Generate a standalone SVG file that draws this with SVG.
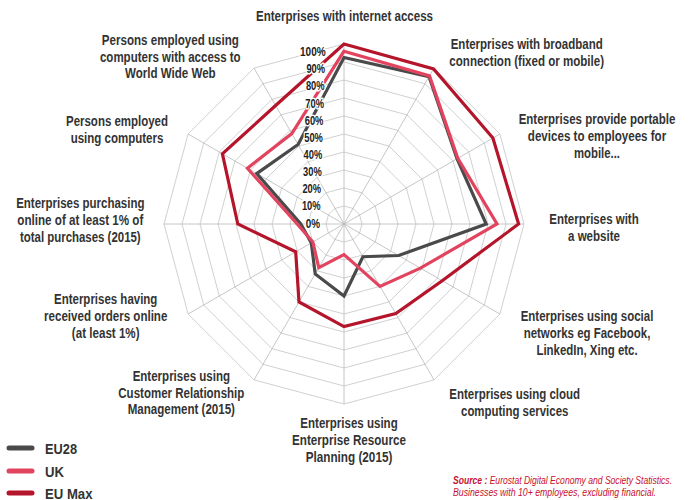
<svg xmlns="http://www.w3.org/2000/svg" xmlns:xlink="http://www.w3.org/1999/xlink" width="688" height="500" viewBox="0 0 688 500">
<style>
.lbl{font-family:"Liberation Sans",Arial,sans-serif;font-weight:bold;font-size:14px;fill:#333;text-anchor:middle}
.pct{font-family:"Liberation Sans",Arial,sans-serif;font-weight:bold;font-size:12.5px;fill:#222;text-anchor:end;stroke:#fff;stroke-width:3px;stroke-linejoin:round;paint-order:stroke}
.leg{font-family:"Liberation Sans",Arial,sans-serif;font-weight:bold;font-size:15px;fill:#333}
.src{font-family:"Liberation Sans",Arial,sans-serif;font-style:italic;font-size:10px;fill:#c8102e}
.ser{fill:none;stroke-width:3.2;stroke-linejoin:miter}
.ring{fill:none;stroke:#c4c4c4}
.spoke{stroke:#b8b8b8;stroke-width:0.8}
</style>
<defs>
<polygon id="unit" points="0,-1 0.5,-0.866 0.866,-0.5 1,0 0.866,0.5 0.5,0.866 0,1 -0.5,0.866 -0.866,0.5 -1,0 -0.866,-0.5 -0.5,-0.866"/>
</defs>
<rect width="688" height="500" fill="#fff"/>
<g id="grid">
<use xlink:href="#unit" class="ring" transform="translate(344 224) scale(18)" stroke-width="0.0444"/>
<use xlink:href="#unit" class="ring" transform="translate(344 224) scale(36)" stroke-width="0.0222"/>
<use xlink:href="#unit" class="ring" transform="translate(344 224) scale(54)" stroke-width="0.0148"/>
<use xlink:href="#unit" class="ring" transform="translate(344 224) scale(72)" stroke-width="0.0111"/>
<use xlink:href="#unit" class="ring" transform="translate(344 224) scale(90)" stroke-width="0.00889"/>
<use xlink:href="#unit" class="ring" transform="translate(344 224) scale(108)" stroke-width="0.00741"/>
<use xlink:href="#unit" class="ring" transform="translate(344 224) scale(126)" stroke-width="0.00635"/>
<use xlink:href="#unit" class="ring" transform="translate(344 224) scale(144)" stroke-width="0.00556"/>
<use xlink:href="#unit" class="ring" transform="translate(344 224) scale(162)" stroke-width="0.00494"/>
<use xlink:href="#unit" class="ring" transform="translate(344 224) scale(180)" stroke-width="0.00444"/>
<line class="spoke" x1="344" y1="224" x2="344" y2="44"/>
<line class="spoke" x1="344" y1="224" x2="434" y2="68.12"/>
<line class="spoke" x1="344" y1="224" x2="499.88" y2="134"/>
<line class="spoke" x1="344" y1="224" x2="524" y2="224"/>
<line class="spoke" x1="344" y1="224" x2="499.88" y2="314"/>
<line class="spoke" x1="344" y1="224" x2="434" y2="379.88"/>
<line class="spoke" x1="344" y1="224" x2="344" y2="404"/>
<line class="spoke" x1="344" y1="224" x2="254" y2="379.88"/>
<line class="spoke" x1="344" y1="224" x2="188.12" y2="314"/>
<line class="spoke" x1="344" y1="224" x2="164" y2="224"/>
<line class="spoke" x1="344" y1="224" x2="188.12" y2="134"/>
<line class="spoke" x1="344" y1="224" x2="254" y2="68.12"/>
</g>
<g id="series">
<polygon id="eu28" class="ser" stroke="#4a4a4a" points="344,57.5 429.05,76.7 457,158.75 486.2,224 398.6,255.5 362.9,256.7 344,296 315.2,273.9 311.3,242.9 300.8,224 256.7,173.6 298.1,144.5"/>
<polygon id="uk" class="ser" stroke="#e2445f" points="344,51.2 429.5,75.9 457.8,158.3 497,224 420.4,268.1 380,286.4 344,254.6 318.8,267.6 312.8,242 297.2,224 247.4,168.2 291.8,133.6"/>
<polygon id="eumax" class="ser" stroke="#b5152b" points="344,44 433.6,68.9 492.9,138 518.6,224 442.2,280.7 395.8,313.6 344,326.6 299,301.9 295.7,251.9 237.8,224 222.4,153.8 275.6,105.5"/>
</g>
<g id="scale">
<text class="pct" x="320" y="227.6" textLength="14.3" lengthAdjust="spacingAndGlyphs">0%</text>
<text class="pct" x="320.6" y="210.4" textLength="18.7" lengthAdjust="spacingAndGlyphs">10%</text>
<text class="pct" x="321.1" y="193.3" textLength="18.7" lengthAdjust="spacingAndGlyphs">20%</text>
<text class="pct" x="321.7" y="176.1" textLength="18.7" lengthAdjust="spacingAndGlyphs">30%</text>
<text class="pct" x="322.3" y="159" textLength="18.7" lengthAdjust="spacingAndGlyphs">40%</text>
<text class="pct" x="322.9" y="141.8" textLength="18.7" lengthAdjust="spacingAndGlyphs">50%</text>
<text class="pct" x="323.4" y="124.6" textLength="18.7" lengthAdjust="spacingAndGlyphs">60%</text>
<text class="pct" x="324" y="107.5" textLength="18.7" lengthAdjust="spacingAndGlyphs">70%</text>
<text class="pct" x="324.6" y="90.3" textLength="18.7" lengthAdjust="spacingAndGlyphs">80%</text>
<text class="pct" x="325.1" y="73.2" textLength="18.7" lengthAdjust="spacingAndGlyphs">90%</text>
<text class="pct" x="325.7" y="56" textLength="25.7" lengthAdjust="spacingAndGlyphs">100%</text>
</g>
<g id="axis-labels">
<g id="lbl-internet" transform="translate(344.5 0) scale(0.82 1)"><text class="lbl" x="0" y="21" textLength="215.9" lengthAdjust="spacingAndGlyphs">Enterprises with internet access</text></g>
<g id="lbl-broadband" transform="translate(526.7 0) scale(0.82 1)">
<text class="lbl" x="0" y="49" textLength="185.4" lengthAdjust="spacingAndGlyphs">Enterprises with broadband</text>
<text class="lbl" x="0" y="66" textLength="188.7" lengthAdjust="spacingAndGlyphs">connection (fixed or mobile)</text>
</g>
<g id="lbl-portable" transform="translate(597 0) scale(0.82 1)">
<text class="lbl" x="0" y="124.5" textLength="191.1" lengthAdjust="spacingAndGlyphs">Enterprises provide portable</text>
<text class="lbl" x="0" y="141" textLength="168.7" lengthAdjust="spacingAndGlyphs">devices to employees for</text>
<text class="lbl" x="0" y="158" textLength="56.1" lengthAdjust="spacingAndGlyphs">mobile...</text>
</g>
<g id="lbl-website" transform="translate(594 0) scale(0.82 1)">
<text class="lbl" x="0" y="224.5" textLength="108.9" lengthAdjust="spacingAndGlyphs">Enterprises with</text>
<text class="lbl" x="0" y="241" textLength="63.4" lengthAdjust="spacingAndGlyphs">a website</text>
</g>
<g id="lbl-social" transform="translate(587 0) scale(0.82 1)">
<text class="lbl" x="0" y="321" textLength="161.8" lengthAdjust="spacingAndGlyphs">Enterprises using social</text>
<text class="lbl" x="0" y="338" textLength="154.5" lengthAdjust="spacingAndGlyphs">networks eg Facebook,</text>
<text class="lbl" x="0" y="355.5" textLength="123.5" lengthAdjust="spacingAndGlyphs">LinkedIn, Xing etc.</text>
</g>
<g id="lbl-cloud" transform="translate(514.7 0) scale(0.82 1)">
<text class="lbl" x="0" y="399" textLength="159.4" lengthAdjust="spacingAndGlyphs">Enterprises using cloud</text>
<text class="lbl" x="0" y="416" textLength="130.9" lengthAdjust="spacingAndGlyphs">computing services</text>
</g>
<g id="lbl-erp" transform="translate(349 0) scale(0.82 1)">
<text class="lbl" x="0" y="428" textLength="118.7" lengthAdjust="spacingAndGlyphs">Enterprises using</text>
<text class="lbl" x="0" y="445" textLength="138.8" lengthAdjust="spacingAndGlyphs">Enterprise Resource</text>
<text class="lbl" x="0" y="462" textLength="105.7" lengthAdjust="spacingAndGlyphs">Planning (2015)</text>
</g>
<g id="lbl-crm" transform="translate(181.3 0) scale(0.82 1)">
<text class="lbl" x="0" y="381" textLength="118.7" lengthAdjust="spacingAndGlyphs">Enterprises using</text>
<text class="lbl" x="0" y="398" textLength="153.7" lengthAdjust="spacingAndGlyphs">Customer Relationship</text>
<text class="lbl" x="0" y="414.5" textLength="130.9" lengthAdjust="spacingAndGlyphs">Management (2015)</text>
</g>
<g id="lbl-orders" transform="translate(105.7 0) scale(0.82 1)">
<text class="lbl" x="0" y="304.5" textLength="126" lengthAdjust="spacingAndGlyphs">Enterprises having</text>
<text class="lbl" x="0" y="321" textLength="150.4" lengthAdjust="spacingAndGlyphs">received orders online</text>
<text class="lbl" x="0" y="338" textLength="82.6" lengthAdjust="spacingAndGlyphs">(at least 1%)</text>
</g>
<g id="lbl-purchasing" transform="translate(80.3 0) scale(0.82 1)">
<text class="lbl" x="0" y="208.5" textLength="156.5" lengthAdjust="spacingAndGlyphs">Enterprises purchasing</text>
<text class="lbl" x="0" y="225" textLength="153.7" lengthAdjust="spacingAndGlyphs">online of at least 1% of</text>
<text class="lbl" x="0" y="242" textLength="147.2" lengthAdjust="spacingAndGlyphs">total purchases (2015)</text>
</g>
<g id="lbl-computers" transform="translate(117 0) scale(0.82 1)">
<text class="lbl" x="0" y="126" textLength="124.4" lengthAdjust="spacingAndGlyphs">Persons employed</text>
<text class="lbl" x="0" y="143" textLength="113" lengthAdjust="spacingAndGlyphs">using computers</text>
</g>
<g id="lbl-www" transform="translate(170.3 0) scale(0.82 1)">
<text class="lbl" x="0" y="45" textLength="167.1" lengthAdjust="spacingAndGlyphs">Persons employed using</text>
<text class="lbl" x="0" y="62" textLength="171.6" lengthAdjust="spacingAndGlyphs">computers with access to</text>
<text class="lbl" x="0" y="78.5" textLength="110.6" lengthAdjust="spacingAndGlyphs">World Wide Web</text>
</g>
</g>
<g id="legend">
<line x1="9" y1="448" x2="32" y2="448" stroke="#4a4a4a" stroke-width="5" stroke-linecap="round"/>
<text class="leg" x="45" y="453.5" textLength="32" lengthAdjust="spacingAndGlyphs">EU28</text>
<line x1="9" y1="471" x2="32" y2="471" stroke="#e2445f" stroke-width="5" stroke-linecap="round"/>
<text class="leg" x="45" y="476.5" textLength="19" lengthAdjust="spacingAndGlyphs">UK</text>
<line x1="9" y1="493" x2="32" y2="493" stroke="#b5152b" stroke-width="5" stroke-linecap="round"/>
<text class="leg" x="45" y="498.5" textLength="47.5" lengthAdjust="spacingAndGlyphs">EU Max</text>
</g>
<g id="source" transform="translate(453 0) scale(0.78 1)">
<text class="src" x="0" y="484.3" textLength="280.8" lengthAdjust="spacingAndGlyphs"><tspan font-weight="bold">Source :</tspan> Eurostat Digital Economy and Society Statistics.</text>
<text class="src" x="0" y="495.7" textLength="260.3" lengthAdjust="spacingAndGlyphs">Businesses with 10+ employees, excluding financial.</text>
</g>
</svg>
